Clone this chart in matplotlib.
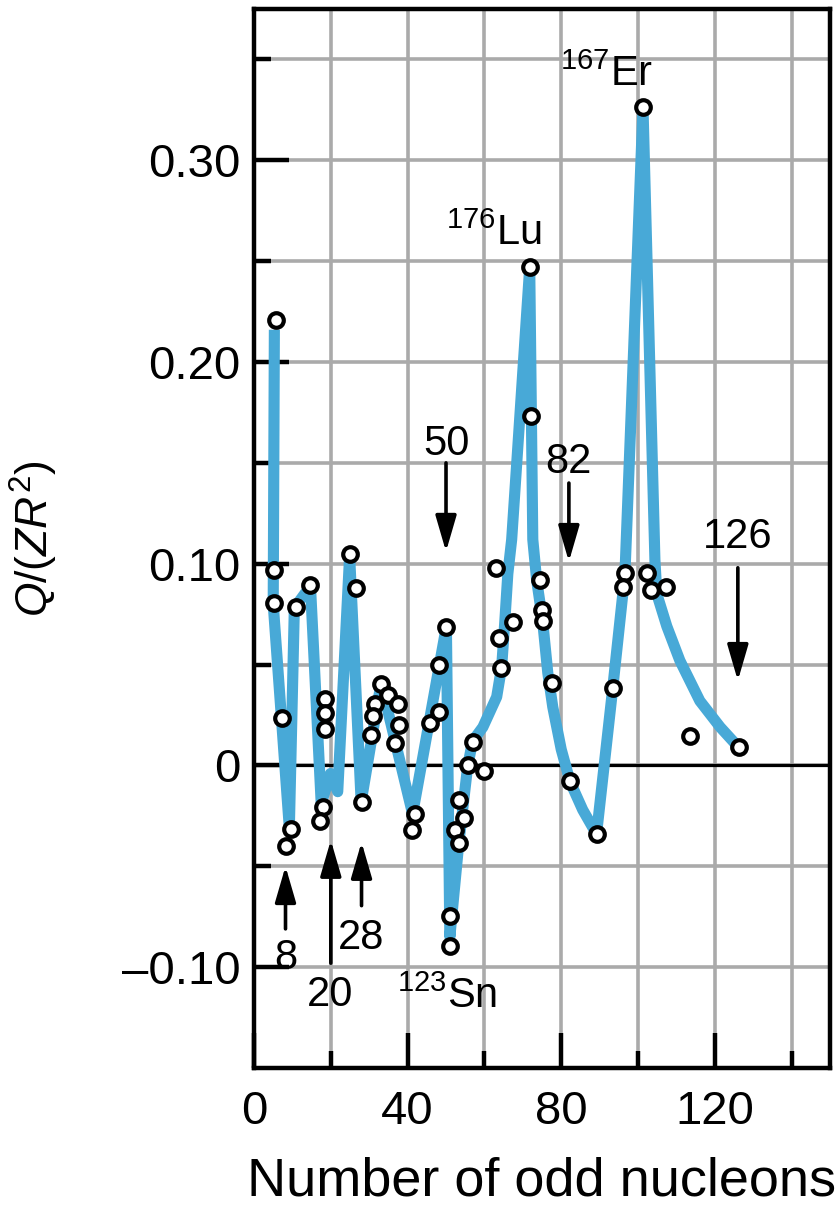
import matplotlib
matplotlib.use("Agg")
import matplotlib.pyplot as plt
import numpy as np

plt.rcParams['font.family'] = ['Liberation Sans', 'DejaVu Sans']
plt.rcParams['mathtext.fontset'] = 'custom'
plt.rcParams['mathtext.rm'] = 'Liberation Sans'
plt.rcParams['mathtext.it'] = 'Liberation Sans:italic'
plt.rcParams['mathtext.default'] = 'regular'

# measured points: number of odd nucleons vs Q/(ZR^2)
odd_n = [5.6, 5.3, 5.1, 7.2, 9.65, 8.35, 10.96, 14.7, 18.6, 18.6, 18.6, 17.9, 17.3,
         25.1, 26.6, 28.1, 33.1, 31.6, 30.9, 30.5, 35.0, 37.6, 37.7, 36.8, 41.8, 41.1,
         45.7, 48.2, 48.2, 50.1, 53.4, 54.6, 52.3, 53.3, 51.0, 51.0, 55.6, 59.8, 56.9,
         63.0, 63.7, 64.2, 67.5, 71.8, 72.1, 74.4, 75.1, 75.3, 77.5, 82.3, 89.2, 93.4,
         96.6, 96.2, 101.3, 102.4, 103.4, 107.3, 113.6, 126.2]
q_val = [0.2207, 0.0969, 0.0803, 0.0235, -0.0314, -0.0397, 0.0786, 0.0894, 0.0331, 0.026,
         0.0179, -0.0207, -0.0273, 0.1048, 0.0878, -0.0182, 0.0406, 0.0307, 0.0245, 0.0153,
         0.0348, 0.0307, 0.0202, 0.0111, -0.0243, -0.0319, 0.0212, 0.0265, 0.0500, 0.0687,
         -0.0170, -0.0260, -0.0319, -0.0384, -0.0745, -0.0894, 0.0, -0.0028, 0.0116,
         0.0977, 0.0634, 0.0483, 0.0712, 0.2469, 0.1730, 0.0919, 0.0773, 0.0715, 0.0411,
         -0.0079, -0.0339, 0.0384, 0.0952, 0.0886, 0.3264, 0.0955, 0.0869, 0.0886, 0.0146,
         0.0091]

# trend curve through the data
curve_n = [5.3, 5.0, 9.2, 10.5, 14.7, 17.5, 19.9, 21.8, 24.9, 27.9, 33.1, 41.3, 50.1,
           51.0, 53.3, 55.6, 56.9, 59.6, 63.2, 64.5, 65.3, 66.1, 67.1, 71.8, 72.6, 73.6,
           75.2, 76.5, 77.8, 80.0, 82.3, 85.6, 89.2, 93.4, 96.6, 101.3, 104.4, 104.9,
           107.5, 110.9, 116.1, 121.4, 126.2]
curve_q = [0.216, 0.080, -0.031, 0.078, 0.089, -0.019, -0.004, -0.013, 0.104, -0.018,
           0.041, -0.024, 0.069, -0.085, -0.039, -0.001, 0.012, 0.019, 0.034, 0.049,
           0.071, 0.095, 0.112, 0.247, 0.112, 0.092, 0.071, 0.046, 0.029, 0.008, -0.008,
           -0.022, -0.034, 0.038, 0.095, 0.326, 0.102, 0.085, 0.069, 0.052, 0.032, 0.019,
           0.009]

y_ticks = [-0.10, 0.0, 0.10, 0.20, 0.30]
y_labels = ['\u20130.10', '0', '0.10', '0.20', '0.30']
x_ticks = [0, 40, 80, 120]
x_labels = ['0', '40', '80', '120']

fig = plt.figure(figsize=(8.4, 12.17), dpi=100)
ax = fig.add_axes([0.3024, 0.1224, 0.6857, 0.8702])
ax.set_xlim(0, 150)
ax.set_ylim(-0.15, 0.375)

ax.set_xticks(x_ticks)
ax.set_xticklabels(x_labels)
ax.set_xticks([20, 60, 100, 140], minor=True)
ax.set_yticks(y_ticks)
ax.set_yticklabels(y_labels)
ax.set_yticks([-0.05, 0.05, 0.15, 0.25, 0.35], minor=True)

ax.grid(True, which='both', color='#aaaaaa', lw=2.6, zorder=0)
ax.set_axisbelow(True)
for s in ax.spines.values():
    s.set_linewidth(3.2)
ax.tick_params(which='major', direction='in', length=25, width=3.2, labelsize=34,
               color='black')
ax.tick_params(which='minor', direction='in', length=12.5, width=3.2, color='black')
ax.tick_params(axis='y', which='major', pad=10)
ax.tick_params(axis='x', which='major', pad=16)
ax.tick_params(top=False, right=False, which='both')

ax.axhline(0, color='black', lw=2.3, zorder=1)

ax.plot(curve_n, curve_q, color='#48a9d7', lw=8, solid_joinstyle='round',
        solid_capstyle='butt', zorder=2)
ax.plot(odd_n, q_val, 'o', ms=10.5, mfc='white', mec='black', mew=3.0, zorder=3,
        clip_on=False)

ax.set_xlabel('Number of odd nucleons', fontsize=39, labelpad=16)
ax.set_ylabel(r'$\mathit{Q}$/($\mathit{ZR}^2$)', fontsize=32, labelpad=44)

afs = 30
ap = dict(arrowstyle='-|>,head_length=1.1,head_width=0.32', lw=2.6, color='black',
          shrinkA=0, shrinkB=0, mutation_scale=20)

# magic-number arrows
ax.text(50, 0.154, '50', fontsize=afs, ha='center', va='baseline')
ax.annotate('', xy=(50, 0.106), xytext=(50, 0.150), arrowprops=ap)
ax.text(82, 0.145, '82', fontsize=afs, ha='center', va='baseline')
ax.annotate('', xy=(82, 0.101), xytext=(82, 0.140), arrowprops=ap)
ax.text(126, 0.108, '126', fontsize=afs, ha='center', va='baseline')
ax.annotate('', xy=(126, 0.042), xytext=(126, 0.098), arrowprops=ap)

ax.text(8.2, -0.101, '8', fontsize=afs, ha='center', va='baseline')
ax.annotate('', xy=(8.2, -0.050), xytext=(8.2, -0.081), arrowprops=ap)
ax.text(19.8, -0.119, '20', fontsize=afs, ha='center', va='baseline')
ax.annotate('', xy=(20, -0.037), xytext=(20, -0.098), arrowprops=ap)
ax.text(27.9, -0.091, '28', fontsize=afs, ha='center', va='baseline')
ax.annotate('', xy=(28, -0.038), xytext=(28, -0.0695), arrowprops=ap)

# nuclide labels
ax.text(37.2, -0.120, r'$^{123}$Sn', fontsize=afs, ha='left', va='baseline')
ax.text(50.0, 0.258, r'$^{176}$Lu', fontsize=afs, ha='left', va='baseline')
ax.text(79.8, 0.3368, r'$^{167}$Er', fontsize=afs, ha='left', va='baseline')

fig.savefig('out.png', dpi=100)
